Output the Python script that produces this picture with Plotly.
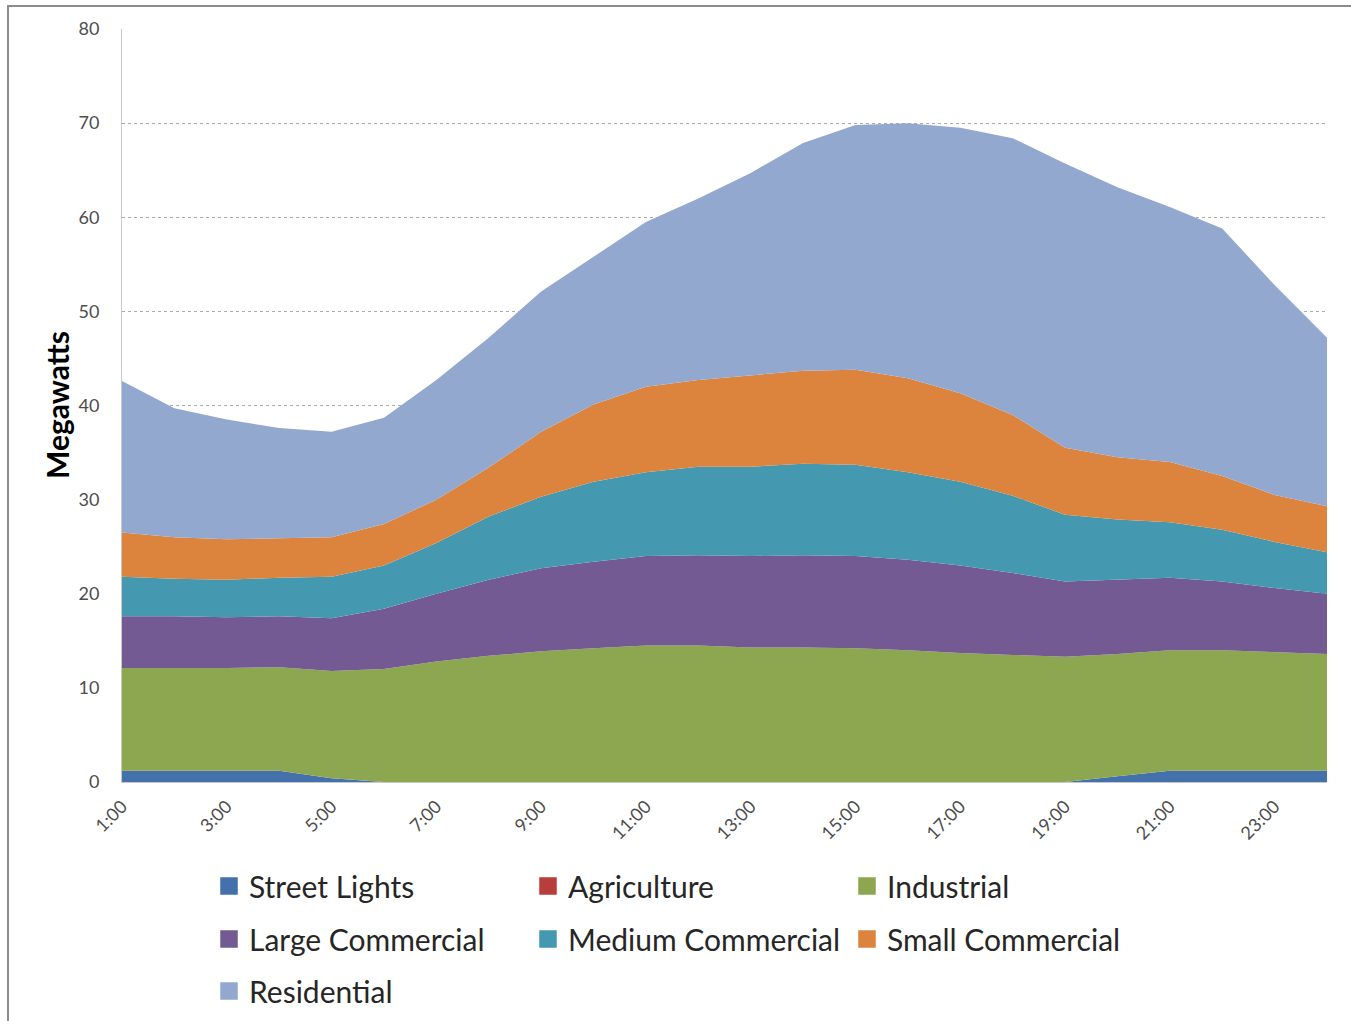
import plotly.graph_objects as go

# Hourly load by customer class (MW), stacked
hours = [f"{h}:00" for h in range(1, 25)]
tick_labels = [f"{h}:00" for h in range(1, 24, 2)]

street_lights = [1.2, 1.2, 1.2, 1.2, 0.4, 0, 0, 0, 0, 0, 0, 0,
                 0, 0, 0, 0, 0, 0, 0, 0.6, 1.2, 1.2, 1.2, 1.2]
agriculture = [0] * 24
industrial = [10.9, 10.9, 10.9, 11.0, 11.4, 12.0, 12.8, 13.4, 13.9, 14.2, 14.5, 14.5,
              14.3, 14.3, 14.2, 14.0, 13.7, 13.5, 13.3, 13.0, 12.8, 12.8, 12.6, 12.4]
large_commercial = [5.5, 5.5, 5.4, 5.4, 5.6, 6.4, 7.2, 8.1, 8.8, 9.2, 9.5, 9.6,
                    9.7, 9.8, 9.8, 9.6, 9.3, 8.7, 8.0, 7.9, 7.7, 7.3, 6.8, 6.4]
medium_commercial = [4.2, 4.0, 4.0, 4.1, 4.4, 4.6, 5.4, 6.7, 7.6, 8.5, 8.9, 9.4,
                     9.5, 9.7, 9.7, 9.3, 8.9, 8.2, 7.1, 6.4, 5.9, 5.5, 4.9, 4.4]
small_commercial = [4.7, 4.4, 4.3, 4.2, 4.2, 4.4, 4.6, 5.2, 6.9, 8.2, 9.1, 9.2,
                    9.7, 9.9, 10.1, 10.0, 9.4, 8.6, 7.1, 6.6, 6.4, 5.7, 5.0, 4.9]
residential = [16.1, 13.7, 12.7, 11.7, 11.2, 11.3, 12.7, 13.8, 14.9, 15.7, 17.5, 19.3,
               21.5, 24.2, 26.0, 27.1, 28.2, 29.4, 30.2, 28.7, 27.1, 26.3, 22.3, 17.9]

series = [
    ("Street Lights", street_lights, "#4470ab", "legend"),
    ("Agriculture", agriculture, "#b83d3b", "legend"),
    ("Industrial", industrial, "#8ca750", "legend"),
    ("Large Commercial", large_commercial, "#735a92", "legend2"),
    ("Medium Commercial", medium_commercial, "#4499b1", "legend2"),
    ("Small Commercial", small_commercial, "#dc843d", "legend2"),
    ("Residential", residential, "#92a8cf", "legend3"),
]

FONT = "Lato, 'Open Sans', sans-serif"

fig = go.Figure()
for name, vals, color, _ in series:
    fig.add_trace(go.Scatter(
        x=hours, y=vals, name=name, mode="lines",
        stackgroup="load", line=dict(width=0, color=color),
        fillcolor=color, legendgroup=name, showlegend=False,
        hovertemplate="%{x}<br>" + name + ": %{y} MW<extra></extra>",
    ))

# square legend swatches, one legend per row
for name, _, color, leg in series:
    fig.add_trace(go.Scatter(
        x=[None], y=[None], name=name, mode="markers",
        marker=dict(symbol="square", size=16, color=color,
                    line=dict(width=1.5, color=color)),
        legendgroup=name, legend=leg, showlegend=True, hoverinfo="skip",
    ))

W, H = 1351, 1021
L, R, T, B = 122, 24, 29, 239
pw, ph = W - L - R, H - T - B


def px_x(x):
    return (x - L) / pw


def px_y(y):
    return (H - B - y) / ph


legend_common = dict(
    orientation="h", xanchor="left", yanchor="middle",
    x=px_x(209), entrywidth=274, entrywidthmode="pixels",
    font=dict(family=FONT, size=30, color="#262626"),
    bgcolor="rgba(0,0,0,0)", borderwidth=0, itemclick="toggle",
)

fig.update_layout(
    width=W, height=H,
    margin=dict(l=L, r=R, t=T, b=B, autoexpand=False),
    paper_bgcolor="white", plot_bgcolor="white",
    font=dict(family=FONT, color="#4d4d4d"),
    legend=dict(legend_common, y=px_y(886)),
    legend2=dict(legend_common, y=px_y(939)),
    legend3=dict(legend_common, y=px_y(991)),
    xaxis=dict(
        type="category", range=[0, 23],
        tickmode="array", tickvals=tick_labels, ticktext=tick_labels,
        tickangle=-45, tickfont=dict(family=FONT, size=18, color="#4d4d4d"),
        showgrid=False, showline=True, linecolor="#c8c8c8", linewidth=1,
        ticks="", ticklabelstandoff=6, zeroline=False,
    ),
    yaxis=dict(
        range=[0, 80], tickmode="linear", tick0=0, dtick=10,
        tickfont=dict(family=FONT, size=18, color="#4d4d4d"),
        showgrid=True, gridcolor="#ababab", gridwidth=1, griddash="dot",
        showline=True, linecolor="#c8c8c8", linewidth=1,
        ticks="", ticklabelstandoff=18, zeroline=False,
    ),
    annotations=[dict(
        text="<b>Megawatts</b>", textangle=-90, showarrow=False,
        xref="paper", yref="paper", x=px_x(57), y=px_y(405),
        xanchor="center", yanchor="middle",
        font=dict(family=FONT, size=30, color="#000000"),
    )],
    shapes=[dict(
        type="rect", xref="paper", yref="paper",
        x0=px_x(8), x1=px_x(W + 4), y0=px_y(H + 4), y1=px_y(6),
        line=dict(color="#8c8c8c", width=2), fillcolor="rgba(0,0,0,0)",
        layer="above",
    )],
)

fig.write_html("out.html")
